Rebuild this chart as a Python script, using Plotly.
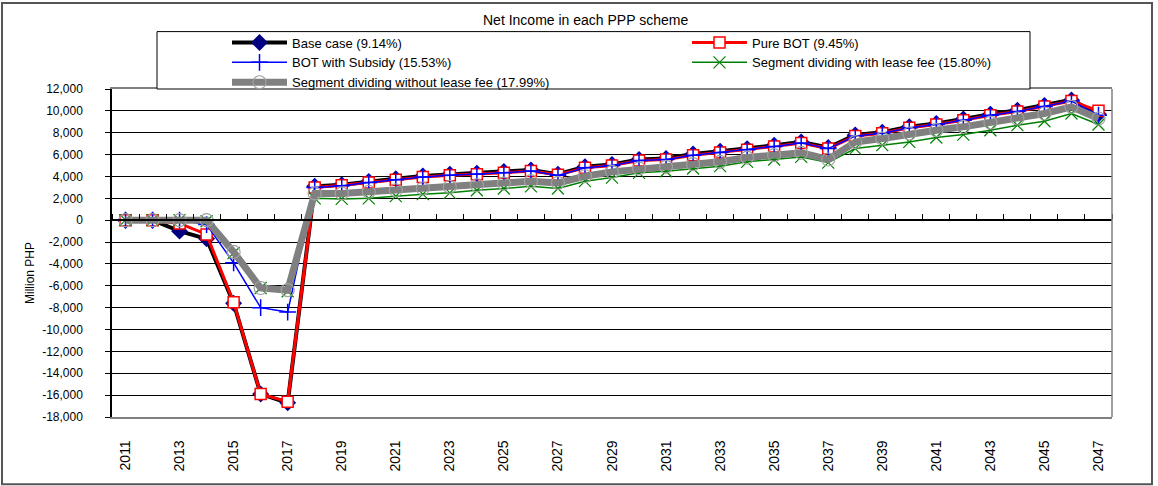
import plotly.graph_objects as go

years = list(range(2011, 2048))

base_case = [0, 0, -1000, -1700, -7600, -15900, -16700, 3100, 3250, 3550, 3800, 4050, 4200, 4300,
             4450, 4600, 4200, 4900, 5100, 5550, 5650, 6050, 6300, 6550, 6850, 7150, 6650, 7800,
             8050, 8550, 8850, 9250, 9700, 10050, 10500, 11000, 9700]
pure_bot = [0, 0, -300, -1300, -7500, -15900, -16600, 3000, 3200, 3450, 3700, 3950, 4100, 4200,
            4350, 4500, 4150, 4800, 5000, 5450, 5550, 5950, 6200, 6450, 6750, 7050, 6550, 7700,
            7950, 8450, 8750, 9150, 9600, 9950, 10400, 10900, 10000]
bot_subsidy = [0, 0, 0, -400, -3900, -8000, -8400, 3000, 3150, 3450, 3700, 3950, 4100, 4200,
               4350, 4500, 4100, 4800, 5000, 5450, 5550, 5950, 6200, 6450, 6750, 7050, 6550, 7700,
               7950, 8450, 8750, 9150, 9600, 9950, 10400, 10900, 9600]
seg_with_fee = [0, 0, 0, -100, -3000, -6200, -6500, 2000, 1950, 2000, 2200, 2380, 2500, 2740,
                2900, 3100, 2900, 3570, 3900, 4330, 4480, 4730, 4940, 5340, 5550, 5790, 5270, 6550,
                6860, 7160, 7560, 7830, 8230, 8690, 9050, 9760, 8750]
seg_without_fee = [0, 0, 0, 0, -2900, -6200, -6400, 2450, 2450, 2600, 2740, 2900, 3050, 3200,
                   3350, 3570, 3410, 4020, 4420, 4730, 4880, 5120, 5340, 5730, 5950, 6160, 5550, 7150,
                   7470, 7930, 8230, 8540, 8930, 9300, 9760, 10370, 9300]

series_names = ["Base case (9.14%)", "Pure BOT (9.45%)", "BOT with Subsidy (15.53%)",
                "Segment dividing with lease fee (15.80%)", "Segment dividing without lease fee (17.99%)"]

x_tick_vals = list(range(2011, 2048, 2))
x_tick_text = [str(v) for v in x_tick_vals]
y_tick_vals = list(range(-18000, 12001, 2000))
y_tick_text = ["-18,000", "-16,000", "-14,000", "-12,000", "-10,000", "-8,000", "-6,000", "-4,000",
               "-2,000", "0", "2,000", "4,000", "6,000", "8,000", "10,000", "12,000"]
boundary_ticks = [y - 0.5 for y in years] + [2047.5]

FONT = "Arial, Liberation Sans, sans-serif"

fig = go.Figure()
fig.add_trace(go.Scatter(x=years, y=base_case, name=series_names[0], mode="lines+markers",
                         legend="legend", legendrank=1,
                         line=dict(color="black", width=4),
                         marker=dict(symbol="diamond", size=13, color="#000080",
                                     line=dict(color="#000080", width=0))))
fig.add_trace(go.Scatter(x=years, y=pure_bot, name=series_names[1], mode="lines+markers",
                         legend="legend2", legendrank=1,
                         line=dict(color="#FF0000", width=3),
                         marker=dict(symbol="square", size=11, color="white",
                                     line=dict(color="#FF0000", width=1.5))))
fig.add_trace(go.Scatter(x=years, y=bot_subsidy, name=series_names[2], mode="lines+markers",
                         legend="legend", legendrank=2,
                         line=dict(color="#0000FF", width=1.5),
                         marker=dict(symbol="cross-thin", size=12, color="#0000FF",
                                     line=dict(color="#0000FF", width=1.5))))
fig.add_trace(go.Scatter(x=years, y=seg_with_fee, name=series_names[3], mode="lines+markers",
                         legend="legend2", legendrank=2,
                         line=dict(color="#008000", width=1.5),
                         marker=dict(symbol="x-thin", size=12, color="#008000",
                                     line=dict(color="#008000", width=1.2))))
fig.add_trace(go.Scatter(x=years, y=seg_without_fee, name=series_names[4], mode="lines+markers",
                         legend="legend", legendrank=3,
                         line=dict(color="#808080", width=7),
                         marker=dict(symbol="circle-open", size=13, color="#A0A0A0",
                                     line=dict(color="#A0A0A0", width=1.2))))

# zero-line axis with boundary ticks (Excel-style axis crossing at 0)
fig.add_trace(go.Scatter(x=[2011], y=[0], xaxis="x2", mode="markers", showlegend=False,
                         marker=dict(opacity=0), hoverinfo="skip"))

legend_common = dict(orientation="v", xanchor="left", yanchor="top", y=1.1875,
                     bgcolor="rgba(0,0,0,0)", font=dict(family=FONT, size=13),
                     itemwidth=55, tracegroupgap=0, traceorder="normal")

fig.update_layout(
    width=1158, height=486,
    margin=dict(l=112, r=46, t=89, b=69),
    paper_bgcolor="white", plot_bgcolor="white",
    font=dict(family=FONT, size=12, color="black"),
    showlegend=True,
    legend=dict(x=0.115, **legend_common),
    legend2=dict(x=0.575, **legend_common),
    xaxis=dict(range=[2010.5, 2047.5], tickmode="array", tickvals=x_tick_vals, ticktext=x_tick_text,
               tickangle=-90, showgrid=False, zeroline=False, showline=True, linecolor="#808080",
               linewidth=1.5, mirror=True, ticks="", ticklabelstandoff=16,
               tickfont=dict(family=FONT, size=14)),
    xaxis2=dict(range=[2010.5, 2047.5], overlaying="x", anchor="free", position=0.6, side="top",
                tickmode="array", tickvals=boundary_ticks, ticks="outside", ticklen=5,
                tickcolor="black", showticklabels=False, showgrid=False, zeroline=False,
                showline=True, linecolor="black", linewidth=1.5),
    yaxis=dict(range=[-18000, 12000], tickmode="array", tickvals=y_tick_vals, ticktext=y_tick_text,
               showgrid=True, gridcolor="black", gridwidth=1, zeroline=False, showline=True,
               linecolor="black", linewidth=1.5, ticks="outside", ticklen=5, tickcolor="black",
               ticklabelstandoff=20, tickfont=dict(family=FONT, size=12)),
    annotations=[
        dict(text="Net Income in each PPP scheme", xref="paper", yref="paper", x=0.473, y=1.21,
             xanchor="center", yanchor="middle", showarrow=False, font=dict(family=FONT, size=14)),
        dict(text="Million PHP", xref="paper", yref="paper", x=-0.082, y=0.439, textangle=-90,
             xanchor="center", yanchor="middle", showarrow=False, font=dict(family=FONT, size=12)),
    ],
    shapes=[
        dict(type="rect", xref="paper", yref="paper", x0=0.045, x1=0.918, y0=1.0, y1=1.175,
             line=dict(color="black", width=1), fillcolor="white", layer="above"),
        dict(type="line", xref="paper", yref="paper", x0=1, x1=1, y0=0, y1=1,
             line=dict(color="#808080", width=1.5)),
        dict(type="rect", xref="paper", yref="paper", x0=-0.11, x1=1.04, y0=-0.205, y1=1.262,
             line=dict(color="#555555", width=2), fillcolor="rgba(0,0,0,0)"),
    ],
)

fig.write_html("out.html", config={"displayModeBar": False},
               post_script="document.body.style.margin='0';")
